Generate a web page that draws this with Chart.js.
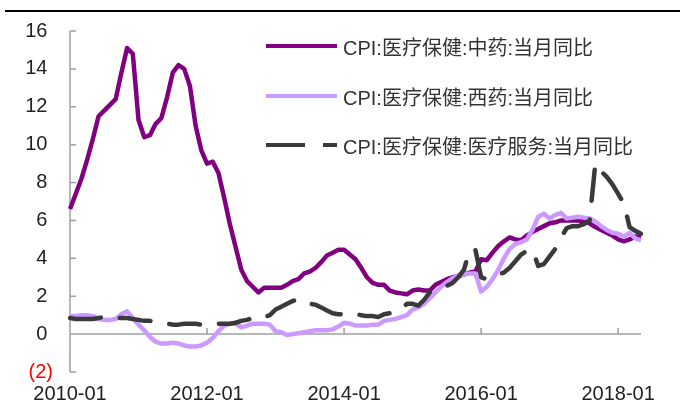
<!DOCTYPE html>
<html><head><meta charset="utf-8">
<script src="https://cdn.jsdelivr.net/npm/chart.js@4.4.1/dist/chart.umd.min.js"></script>
<style>
html,body{margin:0;padding:0;background:#fff;}
#wrap{position:relative;width:680px;height:417px;overflow:hidden;background:#fff;}
#topline{position:absolute;left:5px;top:10px;width:675px;height:2px;background:#000;}
canvas{position:absolute;left:0;top:0;}
.leg{position:absolute;left:266px;height:24px;font-size:20px;font-family:"Liberation Sans","Noto Sans CJK SC",sans-serif;color:#333;display:flex;align-items:center;white-space:nowrap;}
.leg svg{margin-right:6px;display:block;}
</style></head>
<body>
<div id="wrap"><canvas id="c" width="680" height="417"></canvas><div id="topline"></div><div id="legend"></div></div>
<script>
// ---- data ----
const seriesNames = ['CPI:医疗保健:中药:当月同比','CPI:医疗保健:西药:当月同比','CPI:医疗保健:医疗服务:当月同比'];
const months = [];
for (let yr = 2010; yr <= 2018; yr++) for (let mo = 1; mo <= 12; mo++) { if (yr === 2018 && mo > 5) break; months.push(yr + '-' + (mo < 10 ? '0' : '') + mo); }
const xTickLabels = ['2010-01','2012-01','2014-01','2016-01','2018-01'];
const tcm = [6.6,7.4,8.2,9.2,10.3,11.5,11.8,12.1,12.4,13.8,
15.1,14.8,11.3,10.4,10.5,11.1,11.4,12.5,13.8,14.2,
14.0,13.1,11.0,9.7,9.0,9.1,8.5,7.2,5.8,4.6,
3.4,2.8,2.5,2.2,2.45,2.45,2.45,2.45,2.6,2.8,
2.9,3.2,3.3,3.5,3.8,4.15,4.3,4.45,4.45,4.2,
3.95,3.5,3.0,2.7,2.6,2.6,2.3,2.2,2.15,2.1,
2.3,2.35,2.3,2.3,2.6,2.75,2.9,3.0,3.05,3.15,
3.25,3.3,3.95,3.9,4.3,4.65,4.9,5.1,5.0,4.95,
5.2,5.4,5.55,5.7,5.85,5.9,6.0,6.0,6.0,6.0,
5.95,5.85,5.65,5.5,5.35,5.2,5.0,4.9,5.0,5.15,
5.15];
const western = [0.95,0.95,1.0,1.0,0.95,0.8,0.75,0.75,0.8,1.05,
1.2,0.85,0.5,0.2,-0.15,-0.4,-0.5,-0.5,-0.45,-0.5,
-0.6,-0.65,-0.65,-0.6,-0.45,-0.2,0.15,0.45,0.55,0.55,
0.35,0.45,0.55,0.55,0.55,0.5,0.15,0.1,-0.05,0.0,
0.05,0.1,0.15,0.2,0.2,0.2,0.25,0.4,0.6,0.55,
0.45,0.45,0.45,0.5,0.5,0.7,0.75,0.8,0.9,1.0,
1.3,1.4,1.6,1.9,2.2,2.5,2.75,2.95,3.1,3.15,
3.2,3.2,2.25,2.5,2.9,3.4,4.0,4.5,4.75,4.85,
5.0,5.5,6.2,6.35,6.1,6.3,6.4,6.1,6.15,6.2,
6.15,6.1,5.95,5.7,5.5,5.35,5.3,5.15,5.35,5.05,
4.95];
const service = [0.85,0.8,0.8,0.8,0.8,0.85,0.9,0.85,0.85,0.85,
0.85,0.8,0.75,0.7,0.7,0.65,0.6,0.55,0.5,0.5,
0.55,0.55,0.55,0.5,0.55,0.55,0.55,0.55,0.55,0.6,
0.7,0.75,0.85,0.95,0.9,1.0,1.3,1.45,1.6,1.75,
1.85,1.7,1.6,1.55,1.4,1.25,1.1,1.05,1.05,1.0,
1.05,1.0,0.95,0.95,0.9,1.05,1.1,1.25,1.3,1.6,
1.6,1.5,1.8,2.2,2.35,2.5,2.55,2.7,3.0,3.4,
4.45,4.45,3.0,2.9,3.0,3.15,3.25,3.5,3.85,4.2,
4.4,4.45,3.6,3.7,4.1,4.5,5.1,5.6,5.7,5.7,
5.8,6.0,9.0,8.6,8.3,7.9,7.4,6.9,5.65,5.45,
5.3];
const colors = ['#800080','#CC99FF','#3A3A3A'];
const FONT = '"Liberation Sans","Noto Sans CJK SC",Arial,sans-serif';

// ---- legend ----
const legendRows = [46, 96, 145];
const legEl = document.getElementById('legend');
seriesNames.forEach((n, i) => {
  const d = document.createElement('div');
  d.className = 'leg';
  d.style.top = (legendRows[i] - 12) + 'px';
  const dash = i === 2 ? ' stroke-dasharray="39 18"' : '';
  d.innerHTML = '<svg width="71" height="6"><line x1="0" y1="3" x2="71" y2="3" stroke="' + colors[i] + '" stroke-width="4"' + dash + '/></svg>';
  const s = document.createElement('span'); s.textContent = n; d.appendChild(s);
  legEl.appendChild(d);
});

// ---- axes decoration plugin ----
const axisDecor = {
  id: 'axisDecor',
  beforeDatasetsDraw(chart) {
    const { ctx, scales: { x, y } } = chart;
    ctx.save();
    ctx.strokeStyle = '#A0A0A0';
    ctx.lineWidth = 1.5;
    const x0 = x.left;
    ctx.beginPath();
    ctx.moveTo(x0, y.getPixelForValue(16)); ctx.lineTo(x0, y.getPixelForValue(-2));
    y.ticks.forEach(t => { const py = y.getPixelForValue(t.value); ctx.moveTo(x0, py); ctx.lineTo(x0 + 6, py); });
    const py0 = y.getPixelForValue(0);
    ctx.moveTo(x0, py0); ctx.lineTo(x.right, py0);
    months.forEach((l, i) => { if (xTickLabels.includes(l)) { const px = x.getPixelForValue(i); ctx.moveTo(px, py0); ctx.lineTo(px, py0 - 6); } });
    ctx.stroke();
    ctx.restore();
  }
};

new Chart(document.getElementById('c'), {
  type: 'line',
  data: {
    labels: months,
    datasets: [
      { label: seriesNames[0], data: tcm, borderColor: colors[0], borderWidth: 4.5, pointRadius: 0, tension: 0, order: 2, borderJoinStyle: 'round' },
      { label: seriesNames[1], data: western, borderColor: colors[1], borderWidth: 4.5, pointRadius: 0, tension: 0, order: 1, borderJoinStyle: 'round' },
      { label: seriesNames[2], data: service, borderColor: colors[2], borderWidth: 4.5, pointRadius: 0, tension: 0, order: 0, borderDash: [31, 19], borderCapStyle: 'round', borderJoinStyle: 'round' }
    ]
  },
  options: {
    responsive: false, animation: false, devicePixelRatio: 1,
    layout: { padding: { left: 0, right: 39, top: 31, bottom: 0 } },
    plugins: { legend: { display: false }, tooltip: { enabled: false } },
    scales: {
      x: {
        type: 'category', offset: false,
        grid: { display: false, drawTicks: false }, border: { display: false },
        ticks: {
          autoSkip: false, maxRotation: 0, minRotation: 0, padding: 10, color: '#222',
          font: { size: 20, family: FONT },
          callback: function (v) { const l = this.getLabelForValue(v); return xTickLabels.includes(l) ? l : ''; }
        },
        afterFit(s) { s.height = 45; }
      },
      y: {
        min: -2, max: 16,
        grid: { display: false, drawTicks: false }, border: { display: false },
        ticks: {
          stepSize: 2, padding: 17,
          color: c => (c.tick && c.tick.value < 0) ? '#FF0000' : '#222',
          font: { size: 20, family: FONT },
          callback: v => v < 0 ? '(' + Math.abs(v) + ')' : v + ' '
        },
        afterFit(s) { s.width = 70; }
      }
    }
  },
  plugins: [axisDecor]
});
</script>
</body></html>
